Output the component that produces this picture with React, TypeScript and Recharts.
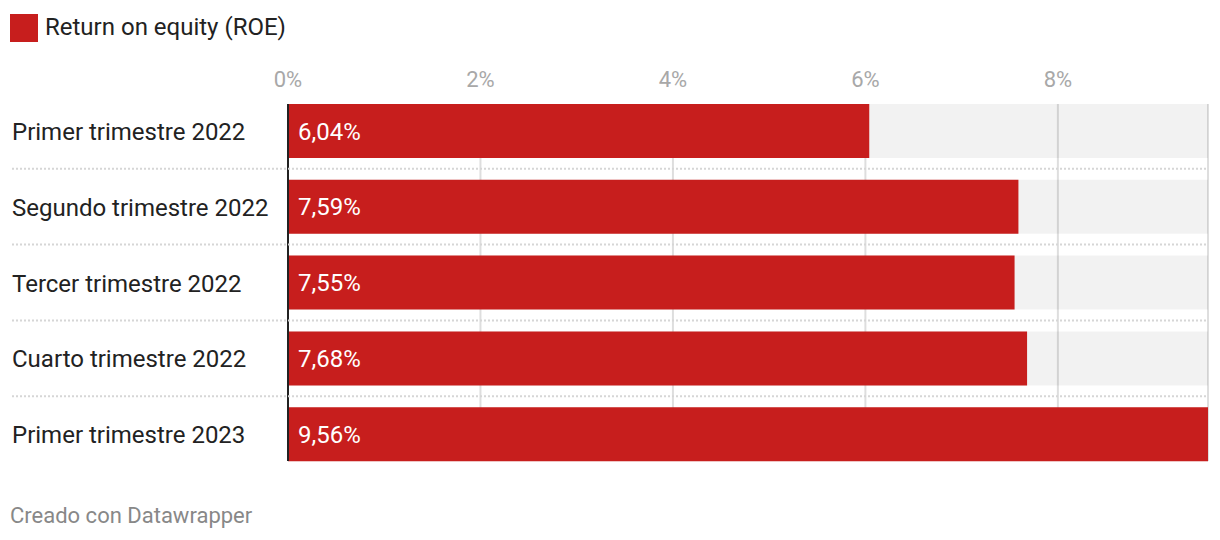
import { BarChart, Bar, XAxis, YAxis, CartesianGrid, ReferenceLine, LabelList } from "recharts";

const categories = [
  "Primer trimestre 2022",
  "Segundo trimestre 2022",
  "Tercer trimestre 2022",
  "Cuarto trimestre 2022",
  "Primer trimestre 2023",
];
const roeValues = [6.04, 7.59, 7.55, 7.68, 9.56];
const xTicks = [0, 2, 4, 6, 8];

const data = categories.map((name, i) => ({ name, roe: roeValues[i] }));

const RED = "#c71e1d";

// category label + dotted separator under each row
function CategoryTick(props: any) {
  const { y, payload, index } = props;
  const half = payload && payload.offset ? payload.offset : 38;
  return (
    <g>
      <text x={12} y={y} dy={9} textAnchor="start" fill="#222" fontSize={24}>
        {payload.value}
      </text>
      {index < categories.length - 1 && (
        <line x1={12} x2={1208} y1={y + half} y2={y + half} stroke="#d6d6d6" strokeWidth={2} strokeDasharray="2 2" />
      )}
    </g>
  );
}

export default function App() {
  return (
    <div style={{ position: "absolute", left: 0, top: 0, width: 1220, height: 540, background: "#fff", fontFamily: "Roboto" }}>
      <div style={{ position: "absolute", left: 10, top: 14, display: "flex", alignItems: "center" }}>
        <span style={{ display: "inline-block", width: 28, height: 28, background: RED }} />
        <span style={{ marginLeft: 7, marginTop: -2, fontSize: 24, color: "#222", lineHeight: "28px" }}>Return on equity (ROE)</span>
      </div>
      <div style={{ position: "absolute", left: 0, top: 0 }}>
        <BarChart
          width={1220}
          height={540}
          data={data}
          layout="vertical"
          margin={{ top: 64, right: 12, bottom: 79, left: 0 }}
          style={{ fontFamily: "Roboto" }}
        >
          <CartesianGrid horizontal={false} stroke="#dedede" strokeWidth={2} />
          <XAxis
            type="number"
            orientation="top"
            domain={[0, "dataMax"]}
            ticks={xTicks}
            interval={0}
            height={40}
            tickFormatter={(v: number) => `${v}%`}
            axisLine={false}
            tickLine={false}
            tickSize={0}
            tickMargin={17}
            tick={{ fill: "#a8a8a8", fontSize: 22 }}
          />
          <YAxis
            type="category"
            dataKey="name"
            width={288}
            axisLine={false}
            tickLine={false}
            padding={{ top: -11, bottom: -11 }}
            tick={<CategoryTick />}
          />
          <Bar dataKey="roe" fill={RED} barSize={54} background={{ fill: "rgba(0,0,0,0.05)" }} isAnimationActive={false}>
            <LabelList
              dataKey="roe"
              position="insideLeft"
              offset={10}
              fill="#fff"
              fontSize={24}
              formatter={(v: any) => `${Number(v).toFixed(2).replace(".", ",")}%`}
            />
          </Bar>
          <ReferenceLine x={0} stroke="#222" strokeWidth={2} />
        </BarChart>
      </div>
      <div style={{ position: "absolute", left: 10, top: 503, fontSize: 22, color: "#888" }}>Creado con Datawrapper</div>
    </div>
  );
}
